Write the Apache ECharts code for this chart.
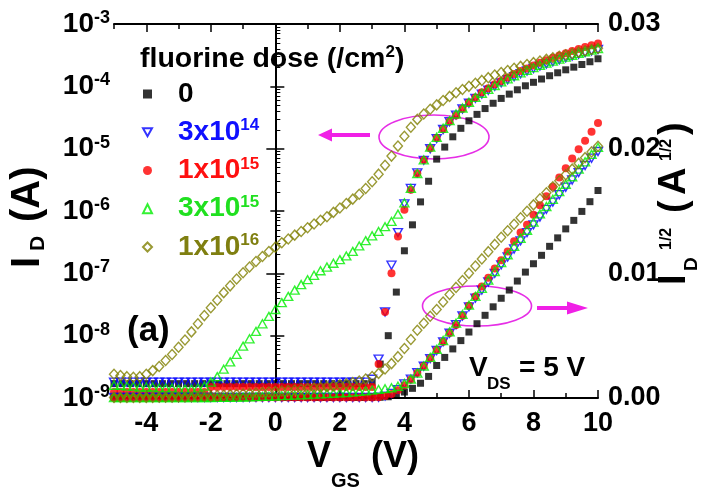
<!DOCTYPE html>
<html><head><meta charset="utf-8">
<script src="https://cdn.jsdelivr.net/npm/echarts@6/dist/echarts.min.js"></script>
<style>html,body{margin:0;padding:0;background:#fff}#c{width:722px;height:496px}</style>
</head><body><div id="c"></div>
<script>
// ---- data ----
const vgsStep02 = [-5,-4.8,-4.6,-4.4,-4.2,-4,-3.8,-3.6,-3.4,-3.2,
  -3,-2.8,-2.6,-2.4,-2.2,-2,-1.8,-1.6,-1.4,-1.2,
  -1,-0.8,-0.6,-0.4,-0.2,0,0.2,0.4,0.6,0.8,
  1,1.2,1.4,1.6,1.8,2,2.2,2.4,2.6,2.8,
  3,3.2,3.4,3.6,3.8,4,4.2,4.4,4.6,4.8,
  5,5.2,5.4,5.6,5.8,6,6.2,6.4,6.6,6.8,
  7,7.2,7.4,7.6,7.8,8,8.2,8.4,8.6,8.8,
  9,9.2,9.4,9.6,9.8,10];
const vgsStep025 = [-5,-4.75,-4.5,-4.25,-4,-3.75,-3.5,-3.25,-3,-2.75,
  -2.5,-2.25,-2,-1.75,-1.5,-1.25,-1,-0.75,-0.5,-0.25,
  0,0.25,0.5,0.75,1,1.25,1.5,1.75,2,2.25,
  2.5,2.75,3,3.25,3.5,3.75,4,4.25,4.5,4.75,
  5,5.25,5.5,5.75,6,6.25,6.5,6.75,7,7.25,
  7.5,7.75,8,8.25,8.5,8.75,9,9.25,9.5,9.75,
  10];
// drain current I_D (A)
const idDose0 = [1.7e-9,1.7e-9,1.7e-9,1.7e-9,1.7e-9,1.7e-9,1.7e-9,1.7e-9,1.7e-9,1.7e-9,
  1.7e-9,1.7e-9,1.7e-9,1.7e-9,1.7e-9,1.7e-9,1.7e-9,1.7e-9,1.7e-9,1.7e-9,
  1.7e-9,1.7e-9,1.7e-9,1.7e-9,1.7e-9,1.7e-9,1.7e-9,1.7e-9,1.7e-9,1.7e-9,
  1.7e-9,1.7e-9,1.8e-9,3.5e-9,1.0e-8,5.0e-8,2.3e-7,6.0e-7,1.4e-6,3.0e-6,
  6.8e-6,1.06e-5,1.55e-5,2.12e-5,2.8e-5,3.55e-5,4.4e-5,5.35e-5,6.4e-5,7.5e-5,
  8.8e-5,1.02e-4,1.16e-4,1.31e-4,1.48e-4,1.65e-4,1.84e-4,2.03e-4,2.24e-4,2.48e-4,
  2.77e-4];
const idDose3e14 = [1.8e-9,1.8e-9,1.8e-9,1.8e-9,1.8e-9,1.8e-9,1.8e-9,1.8e-9,1.8e-9,1.8e-9,
  1.8e-9,1.8e-9,1.8e-9,1.8e-9,1.8e-9,1.8e-9,1.8e-9,1.8e-9,1.8e-9,1.8e-9,
  1.8e-9,1.8e-9,1.8e-9,1.8e-9,1.8e-9,1.8e-9,1.8e-9,1.8e-9,1.8e-9,1.8e-9,
  1.8e-9,1.8e-9,1.8e-9,1.8e-9,1.8e-9,1.8e-9,1.8e-9,1.8e-9,1.8e-9,1.8e-9,
  2.0e-9,4.2e-9,2.4e-8,1.35e-7,4.5e-7,1.3e-6,2.3e-6,4.1e-6,6.5e-6,1.0e-5,
  1.45e-5,2.03e-5,2.70e-5,3.46e-5,4.33e-5,5.35e-5,6.42e-5,7.50e-5,8.66e-5,1.0e-4,
  1.14e-4,1.28e-4,1.43e-4,1.59e-4,1.76e-4,1.93e-4,2.11e-4,2.29e-4,2.47e-4,2.66e-4,
  2.86e-4,3.06e-4,3.27e-4,3.48e-4,3.70e-4,3.91e-4];
const idDose1e15 = [1.25e-9,1.25e-9,1.25e-9,1.25e-9,1.25e-9,1.25e-9,1.25e-9,1.25e-9,1.25e-9,1.25e-9,
  1.25e-9,1.25e-9,1.25e-9,1.25e-9,1.25e-9,1.5e-9,1.5e-9,1.5e-9,1.5e-9,1.5e-9,
  1.5e-9,1.5e-9,1.5e-9,1.5e-9,1.5e-9,1.5e-9,1.5e-9,1.5e-9,1.5e-9,1.5e-9,
  1.5e-9,1.5e-9,1.5e-9,1.5e-9,1.5e-9,1.5e-9,1.5e-9,1.5e-9,1.5e-9,1.5e-9,
  1.5e-9,3.5e-9,2.4e-8,1.0e-7,3.9e-7,1.05e-6,2.2e-6,4.0e-6,6.6e-6,1.02e-5,
  1.48e-5,2.04e-5,2.72e-5,3.42e-5,4.36e-5,5.48e-5,6.64e-5,8.01e-5,9.31e-5,1.08e-4,
  1.22e-4,1.38e-4,1.58e-4,1.76e-4,1.93e-4,2.16e-4,2.39e-4,2.62e-4,2.87e-4,3.13e-4,
  3.40e-4,3.69e-4,3.98e-4,4.26e-4,4.56e-4,4.87e-4];
const idDose3e15 = [1.6e-9,1.6e-9,1.55e-9,1.55e-9,1.5e-9,1.5e-9,1.5e-9,1.45e-9,1.45e-9,1.45e-9,
  1.4e-9,1.4e-9,1.4e-9,1.45e-9,1.55e-9,1.8e-9,2.2e-9,2.9e-9,3.8e-9,5.0e-9,
  6.8e-9,8.9e-9,1.17e-8,1.55e-8,2.04e-8,2.63e-8,3.39e-8,4.27e-8,5.37e-8,6.6e-8,
  7.9e-8,9.3e-8,1.1e-7,1.26e-7,1.45e-7,1.66e-7,1.9e-7,2.25e-7,2.75e-7,3.35e-7,
  4.0e-7,4.7e-7,5.6e-7,6.8e-7,8.9e-7,1.35e-6,2.3e-6,4.0e-6,6.6e-6,1.06e-5,
  1.52e-5,2.12e-5,2.81e-5,3.60e-5,4.49e-5,5.55e-5,6.64e-5,7.74e-5,8.93e-5,1.03e-4,
  1.18e-4,1.32e-4,1.48e-4,1.64e-4,1.81e-4,1.99e-4,2.18e-4,2.36e-4,2.54e-4,2.74e-4,
  2.94e-4,3.15e-4,3.37e-4,3.59e-4,3.82e-4,4.04e-4];
const idDose1e16 = [2.4e-9,2.3e-9,2.2e-9,2.15e-9,2.2e-9,2.4e-9,2.75e-9,3.2e-9,4.0e-9,5.0e-9,
  6.5e-9,8.5e-9,1.15e-8,1.55e-8,2.1e-8,2.8e-8,3.7e-8,4.9e-8,6.3e-8,8.1e-8,
  1.02e-7,1.26e-7,1.55e-7,1.86e-7,2.24e-7,2.63e-7,3.1e-7,3.55e-7,4.1e-7,4.7e-7,
  5.4e-7,6.2e-7,7.1e-7,8.1e-7,9.5e-7,1.12e-6,1.32e-6,1.55e-6,1.86e-6,2.3e-6,
  2.95e-6,3.9e-6,5.4e-6,7.6e-6,1.1e-5,1.58e-5,2.2e-5,2.95e-5,3.6e-5,4.3e-5,
  5.04e-5,5.93e-5,6.89e-5,7.87e-5,8.89e-5,1.0e-4,1.12e-4,1.245e-4,1.378e-4,1.518e-4,
  1.664e-4,1.80e-4,1.943e-4,2.09e-4,2.244e-4,2.40e-4,2.554e-4,2.709e-4,2.87e-4,3.035e-4,
  3.204e-4,3.371e-4,3.542e-4,3.717e-4,3.897e-4,4.08e-4];
const legendNames = ['0', '3x10^14', '1x10^15', '3x10^15', '1x10^16'];
const xTickLabels = [-4, -2, 0, 2, 4, 6, 8, 10];
const xMinorTicks = [-5, -3, -1, 1, 3, 5, 7, 9];
const yLogTicks = [1e-9, 1e-8, 1e-7, 1e-6, 1e-5, 1e-4, 1e-3];
const yRightTicks = [0, 0.01, 0.02, 0.03];

// ---- drawing ----
const F = '"Liberation Sans", Arial, Helvetica, sans-serif';
const chart = echarts.init(document.getElementById('c'), null, {renderer: 'canvas', width: 722, height: 496});
const DOWN_TRIANGLE = 'path://M0,0L10,0L5,9Z';

const markers = [
  {name: legendNames[0], vgs: vgsStep025, id: idDose0, symbol: 'rect', size: 7, color: '#000000', label: '#000000', hollow: false},
  {name: legendNames[1], vgs: vgsStep02, id: idDose3e14, symbol: DOWN_TRIANGLE, size: [9, 8], color: '#0000ff', label: '#1010ff', hollow: true},
  {name: legendNames[2], vgs: vgsStep02, id: idDose1e15, symbol: 'circle', size: 8, color: '#ff0000', label: '#ff1010', hollow: false},
  {name: legendNames[3], vgs: vgsStep02, id: idDose3e15, symbol: 'triangle', size: [9, 8], color: '#00ee00', label: '#20e020', hollow: true},
  {name: legendNames[4], vgs: vgsStep02, id: idDose1e16, symbol: 'diamond', size: [9, 10], color: '#808000', label: '#7f7f10', hollow: true}
];

function makeSeries(m, sqrtBranch) {
  return {
    type: 'scatter', name: m.name, xAxisIndex: 0, yAxisIndex: sqrtBranch ? 2 : 0,
    symbol: m.symbol, symbolSize: m.size,
    itemStyle: m.hollow ? {color: 'rgba(255,255,255,0)', borderColor: m.color, borderWidth: 1.4}
                        : {color: m.color},
    emphasis: {disabled: true}, silent: true, animation: false,
    data: m.vgs.map((v, i) => [v, sqrtBranch ? Math.sqrt(m.id[i]) : m.id[i]])
  };
}
const series = markers.map(m => makeSeries(m, false)).concat(markers.map(m => makeSeries(m, true)));

const minorLog = [];
for (let d = -9; d < -3; d++) for (let k = 2; k <= 9; k++) minorLog.push(k * Math.pow(10, d));

const tickLine = {color: '#000', width: 1.5};
const baseX = {type: 'value', min: -5, max: 10, gridIndex: 0, splitLine: {show: false}};
const txt = (size) => ({fontFamily: F, fontWeight: 'bold', fontSize: size, color: '#000'});
const T = (x, y, s, size, extra) => Object.assign({type: 'text', x: x, y: y, silent: true,
  style: {text: s, fontFamily: F, fontWeight: 'bold', fontSize: size, fill: '#000', verticalAlign: 'middle'}}, extra || {});

const option = {
  backgroundColor: '#fff',
  animation: false,
  grid: {left: 114, top: 24, width: 484, height: 374, containLabel: false, outerBoundsMode: 'none'},
  legend: {
    orient: 'vertical', left: 142, top: 79, padding: 0, itemGap: 8.25,
    itemWidth: 9, itemHeight: 9, selectedMode: false,
    data: markers.map(m => ({name: m.name, icon: m.symbol, textStyle: {color: m.label}})),
    formatter: function (name) {
      const p = name.split('^');
      return '{sp| }' + (p.length > 1 ? '{n|' + p[0] + '}{s|' + p[1] + '}' : '{n|' + name + '}');
    },
    textStyle: {
      fontFamily: F, fontWeight: 'bold', fontSize: 28, lineHeight: 30,
      rich: {
        sp: {width: 21, fontSize: 10},
        n: {fontFamily: F, fontWeight: 'bold', fontSize: 28, lineHeight: 30},
        s: {fontFamily: F, fontWeight: 'bold', fontSize: 17, lineHeight: 16, verticalAlign: 'top'}
      }
    }
  },
  xAxis: [
    Object.assign({}, baseX, {position: 'bottom',
      axisLine: {show: true, lineStyle: {color: '#000', width: 2}},
      axisTick: {show: true, inside: true, length: 8, customValues: xTickLabels, lineStyle: tickLine},
      axisLabel: Object.assign(txt(27), {customValues: xTickLabels, margin: 12, formatter: v => String(v)})}),
    Object.assign({}, baseX, {position: 'bottom',
      axisLine: {show: false},
      axisTick: {show: true, inside: true, length: 5, customValues: xMinorTicks, lineStyle: tickLine},
      axisLabel: {show: false}}),
    Object.assign({}, baseX, {position: 'top',
      axisLine: {show: true, lineStyle: {color: '#000', width: 2}},
      axisTick: {show: true, inside: true, length: 8, customValues: xTickLabels, lineStyle: tickLine},
      axisLabel: {show: false}}),
    Object.assign({}, baseX, {position: 'top',
      axisLine: {show: false},
      axisTick: {show: true, inside: true, length: 5, customValues: xMinorTicks, lineStyle: tickLine},
      axisLabel: {show: false}})
  ],
  yAxis: [
    {type: 'log', logBase: 10, min: 1e-9, max: 1e-3, position: 'left', gridIndex: 0,
      splitLine: {show: false},
      axisLine: {show: true, lineStyle: {color: '#000', width: 2}},
      axisTick: {show: true, inside: true, length: 9, customValues: yLogTicks, lineStyle: tickLine},
      axisLabel: {customValues: yLogTicks, margin: 4,
        formatter: v => '{b|10}{s|' + Math.round(Math.log10(v)) + '}',
        rich: {
          b: {fontFamily: F, fontWeight: 'bold', fontSize: 28, lineHeight: 30, color: '#000'},
          s: {fontFamily: F, fontWeight: 'bold', fontSize: 18, lineHeight: 16, verticalAlign: 'top', color: '#000'}
        }}},
    {type: 'log', logBase: 10, min: 1e-9, max: 1e-3, position: 'left', gridIndex: 0,
      splitLine: {show: false}, axisLine: {show: false},
      axisTick: {show: true, inside: true, length: 5, customValues: minorLog, lineStyle: {color: '#000', width: 1}},
      axisLabel: {show: false}},
    {type: 'value', min: 0, max: 0.03, interval: 0.01, position: 'right', gridIndex: 0,
      splitLine: {show: false},
      axisLine: {show: true, lineStyle: {color: '#000', width: 2}},
      axisTick: {show: true, inside: true, length: 9, lineStyle: tickLine},
      minorTick: {show: true, splitNumber: 2, length: 5, lineStyle: tickLine},
      axisLabel: Object.assign(txt(27), {margin: 10, formatter: v => v.toFixed(2)})}
  ],
  series: series,
  graphic: {elements: [
    // legend title
    {type: 'text', x: 140, y: 59, silent: true, style: {
      text: '{a|fluorine dose (/cm}{s|2}{a|)}', verticalAlign: 'middle', align: 'left',
      rich: {a: {fontFamily: F, fontWeight: 'bold', fontSize: 28.5, lineHeight: 30, fill: '#000'},
             s: {fontFamily: F, fontWeight: 'bold', fontSize: 17, lineHeight: 24, verticalAlign: 'top', fill: '#000'}}}},
    // panel label
    T(127, 331, '(a)', 35),
    // V_DS = 5 V
    T(469, 368, 'V', 28),
    T(487, 384, 'DS', 17),
    T(519, 368, '= 5 V', 28),
    // magenta annotations
    {type: 'ellipse', silent: true, shape: {cx: 434, cy: 137, rx: 55, ry: 22}, style: {fill: 'none', stroke: '#e62ee6', lineWidth: 1.6}},
    {type: 'ellipse', silent: true, shape: {cx: 477, cy: 306, rx: 54.5, ry: 20}, style: {fill: 'none', stroke: '#e62ee6', lineWidth: 1.6}},
    {type: 'polygon', silent: true, shape: {points: [[370,133],[332,133],[332,128.5],[318,135],[332,141.5],[332,137],[370,137]]}, style: {fill: '#f020e6'}},
    {type: 'polygon', silent: true, shape: {points: [[537,306],[567,306],[567,301.5],[588,308],[567,314.5],[567,310],[537,310]]}, style: {fill: '#f020e6'}},
    // x-axis title V_GS (V)
    T(307, 457.5, 'V', 36),
    T(331, 481, 'GS', 20),
    T(371, 457.5, '(V)', 36),
    // left title I_D (A), reading upward
    {type: 'group', x: 28, y: 268, rotation: Math.PI / 2, silent: true, children: [
      T(0, 0, 'I', 40), T(17, 10, 'D', 21), T(46, 0, '(A)', 40)
    ]},
    // right title I_D^1/2 (A^1/2), reading upward
    {type: 'group', x: 675, y: 285, rotation: Math.PI / 2, silent: true, children: [
      T(0, 0, 'I', 38), T(14, 17, 'D', 19), T(35, -8, '1/2', 16),
      T(72, 0, '(', 38), T(90, 0, 'A', 38), T(124, -8, '1/2', 16), T(150, 0, ')', 38)
    ]}
  ]}
};
chart.setOption(option);
</script>
</body></html>
